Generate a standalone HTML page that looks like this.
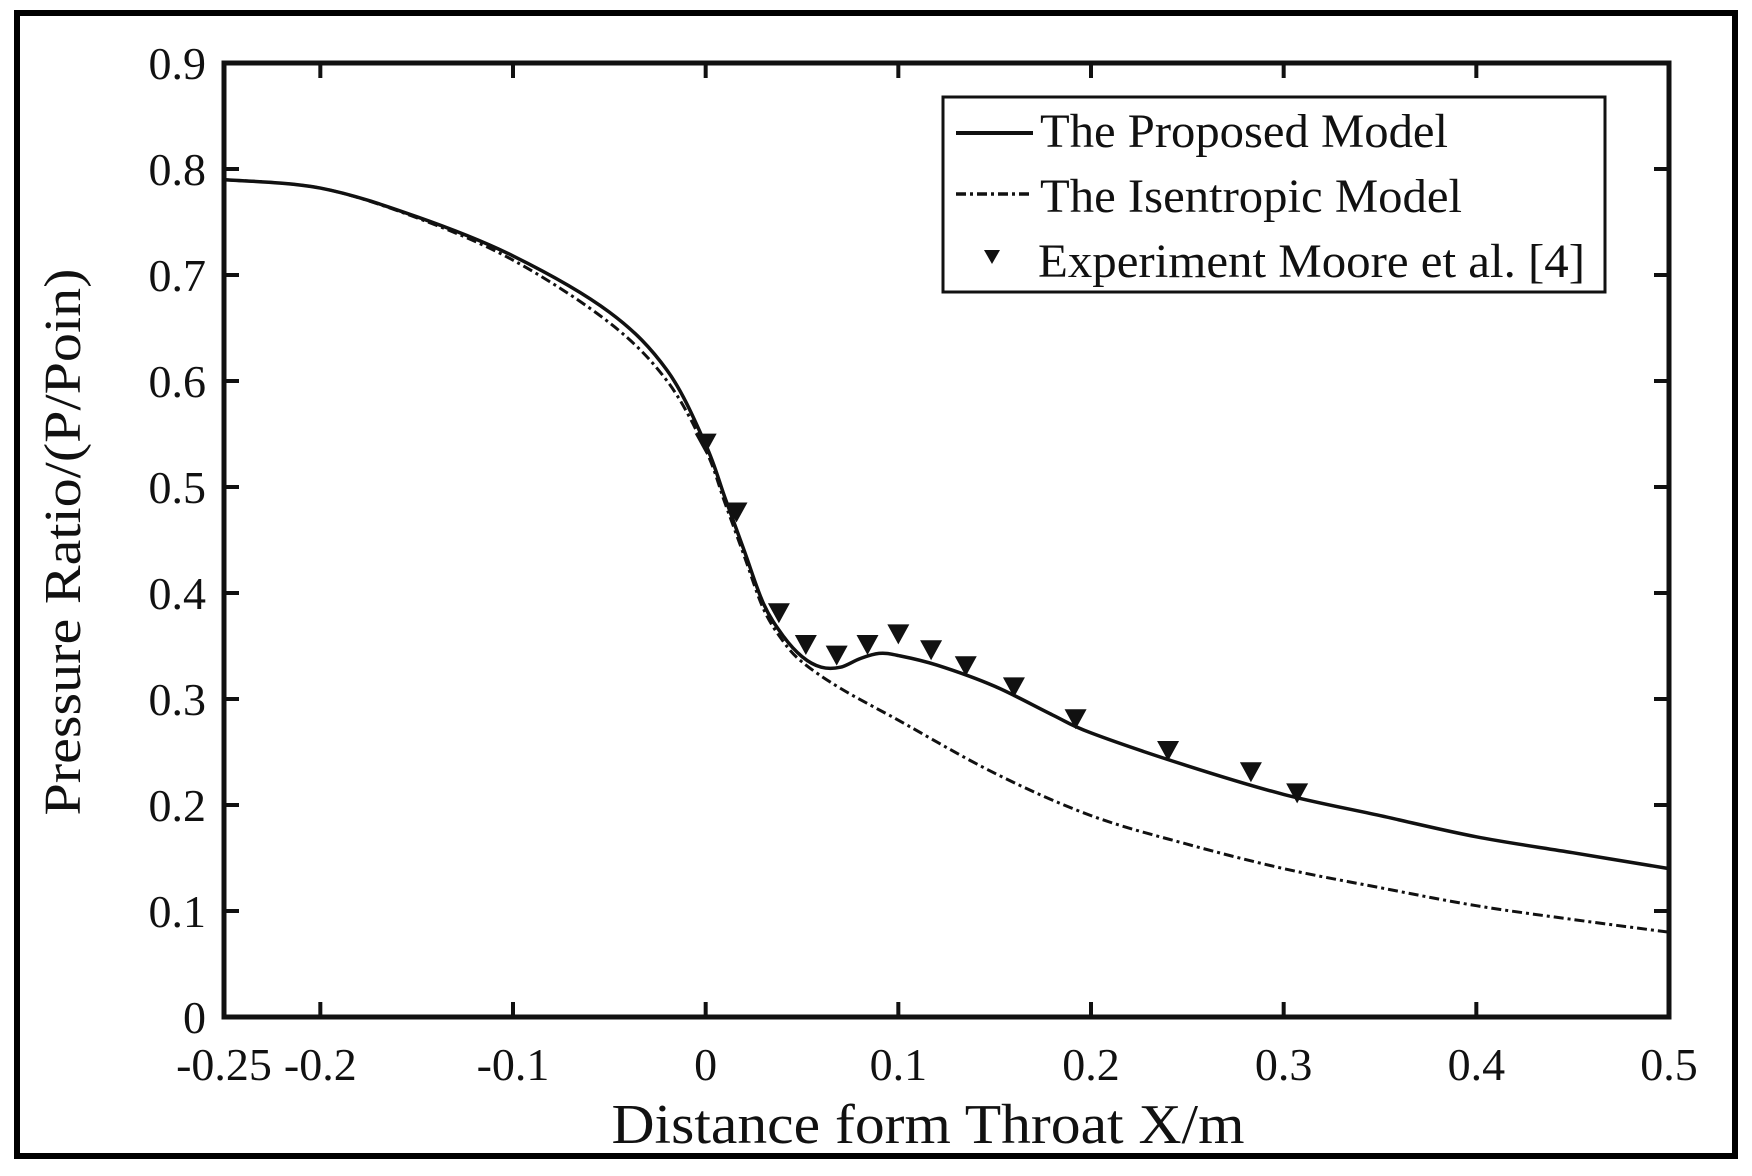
<!DOCTYPE html>
<html><head><meta charset="utf-8"><style>
html,body{margin:0;padding:0;background:#fff;}
svg{display:block;}
text{font-family:"Liberation Serif",serif;fill:#111;}
</style></head><body>
<svg id="chart" width="1752" height="1176" viewBox="0 0 1752 1176">
<rect x="17" y="13" width="1718" height="1143" fill="none" stroke="#000" stroke-width="6"/>
<g id="plot"></g>
</svg>
<script>
const xTicks=[-0.25,-0.2,-0.1,0,0.1,0.2,0.3,0.4,0.5];
const xTickLabels=["-0.25","-0.2","-0.1","0","0.1","0.2","0.3","0.4","0.5"];
const yTicks=[0,0.1,0.2,0.3,0.4,0.5,0.6,0.7,0.8,0.9];
const yTickLabels=["0","0.1","0.2","0.3","0.4","0.5","0.6","0.7","0.8","0.9"];
const propX=[-0.25,-0.2,-0.15,-0.1,-0.05,-0.02,0,0.01,0.02,0.03,0.04,0.05,0.06,0.07,0.08,0.09,0.1,0.12,0.15,0.18,0.2,0.25,0.3,0.35,0.4,0.45,0.5];
const propY=[0.79,0.782,0.755,0.718,0.665,0.61,0.54,0.49,0.44,0.39,0.36,0.34,0.33,0.33,0.338,0.343,0.341,0.332,0.312,0.285,0.268,0.237,0.21,0.19,0.17,0.155,0.14];
const isenX=[-0.25,-0.2,-0.15,-0.1,-0.05,-0.02,0,0.01,0.02,0.03,0.04,0.05,0.07,0.1,0.15,0.2,0.25,0.3,0.35,0.4,0.45,0.5];
const isenY=[0.79,0.782,0.754,0.714,0.655,0.6,0.535,0.485,0.435,0.385,0.355,0.335,0.31,0.28,0.23,0.19,0.163,0.14,0.122,0.105,0.092,0.08];
const expX=[0,0.016,0.038,0.052,0.068,0.084,0.1,0.117,0.135,0.16,0.192,0.24,0.283,0.307];
const expY=[0.54,0.475,0.38,0.35,0.34,0.35,0.36,0.345,0.33,0.31,0.28,0.25,0.23,0.21];

const L=224,R=1669,T=63,B=1017;
const sx=v=>L+(v+0.25)/0.75*(R-L);
const sy=v=>B-v/0.9*(B-T);
const NS="http://www.w3.org/2000/svg";
const g=document.getElementById('plot');
function mk(tag,attrs,parent){const e=document.createElementNS(NS,tag);for(const k in attrs)e.setAttribute(k,attrs[k]);(parent||g).appendChild(e);return e;}
function smooth(xs,ys){const p=xs.map((x,i)=>[sx(x),sy(ys[i])]);let d="M"+p[0][0]+","+p[0][1];
for(let i=0;i<p.length-1;i++){const p0=p[Math.max(0,i-1)],p1=p[i],p2=p[i+1],p3=p[Math.min(p.length-1,i+2)];
const c1=[p1[0]+(p2[0]-p0[0])/6,p1[1]+(p2[1]-p0[1])/6],c2=[p2[0]-(p3[0]-p1[0])/6,p2[1]-(p3[1]-p1[1])/6];
d+=" C"+c1[0]+","+c1[1]+" "+c2[0]+","+c2[1]+" "+p2[0]+","+p2[1];}return d;}

const iso=mk('path',{d:smooth(isenX,isenY),fill:'none',stroke:'#111','stroke-width':3,'stroke-dasharray':'10,4,3,4'});


const pro=mk('path',{d:smooth(propX,propY),fill:'none',stroke:'#111','stroke-width':3.5});


expX.forEach((x,i)=>{const cx=sx(x),cy=sy(expY[i]);
const m=mk('polygon',{points:(cx-11)+","+(cy-11)+" "+(cx+11)+","+(cy-11)+" "+cx+","+(cy+9),fill:'#111'});

});

const fr=mk('rect',{x:L,y:T,width:R-L,height:B-T,fill:'none',stroke:'#111','stroke-width':5});


xTicks.forEach((v,i)=>{const x=sx(v);
mk('line',{x1:x,y1:B,x2:x,y2:B-15,stroke:'#111','stroke-width':4});
mk('line',{x1:x,y1:T,x2:x,y2:T+15,stroke:'#111','stroke-width':4});
const t=mk('text',{x:x,y:1080,'font-size':46,'text-anchor':'middle'});t.textContent=xTickLabels[i];

});
yTicks.forEach((v,i)=>{const y=sy(v);
mk('line',{x1:L,y1:y,x2:L+15,y2:y,stroke:'#111','stroke-width':4});
mk('line',{x1:R,y1:y,x2:R-15,y2:y,stroke:'#111','stroke-width':4});
const t=mk('text',{x:206,y:y+16,'font-size':46,'text-anchor':'end'});t.textContent=yTickLabels[i];

});
</script>
<script>
const svg=document.getElementById('chart');
svg.insertAdjacentHTML('beforeend',`
<text x="928" y="1143" font-size="56" text-anchor="middle" textLength="633" lengthAdjust="spacingAndGlyphs">Distance form Throat X/m</text>
<text transform="translate(80,542) rotate(-90)" font-size="52" text-anchor="middle" textLength="547" lengthAdjust="spacingAndGlyphs">Pressure Ratio/(P/Poin)</text>
<g>
<rect x="943" y="97" width="662" height="195" fill="#fff" stroke="#111" stroke-width="3"/>
<line x1="956" y1="133" x2="1033" y2="133" stroke="#111" stroke-width="4"/>
<text x="1040" y="147" font-size="48" textLength="408" lengthAdjust="spacingAndGlyphs">The Proposed Model</text>
<line x1="956" y1="194" x2="1033" y2="194" stroke="#111" stroke-width="3.5" stroke-dasharray="10,4,3,4"/>
<text x="1040" y="212" font-size="48" textLength="422" lengthAdjust="spacingAndGlyphs">The Isentropic Model</text>
<polygon points="984,250 1000,250 992,264" fill="#111"/>
<text x="1038" y="277" font-size="48" textLength="547" lengthAdjust="spacingAndGlyphs">Experiment Moore et al. [4]</text>
</g>`);
</script>
</body></html>
